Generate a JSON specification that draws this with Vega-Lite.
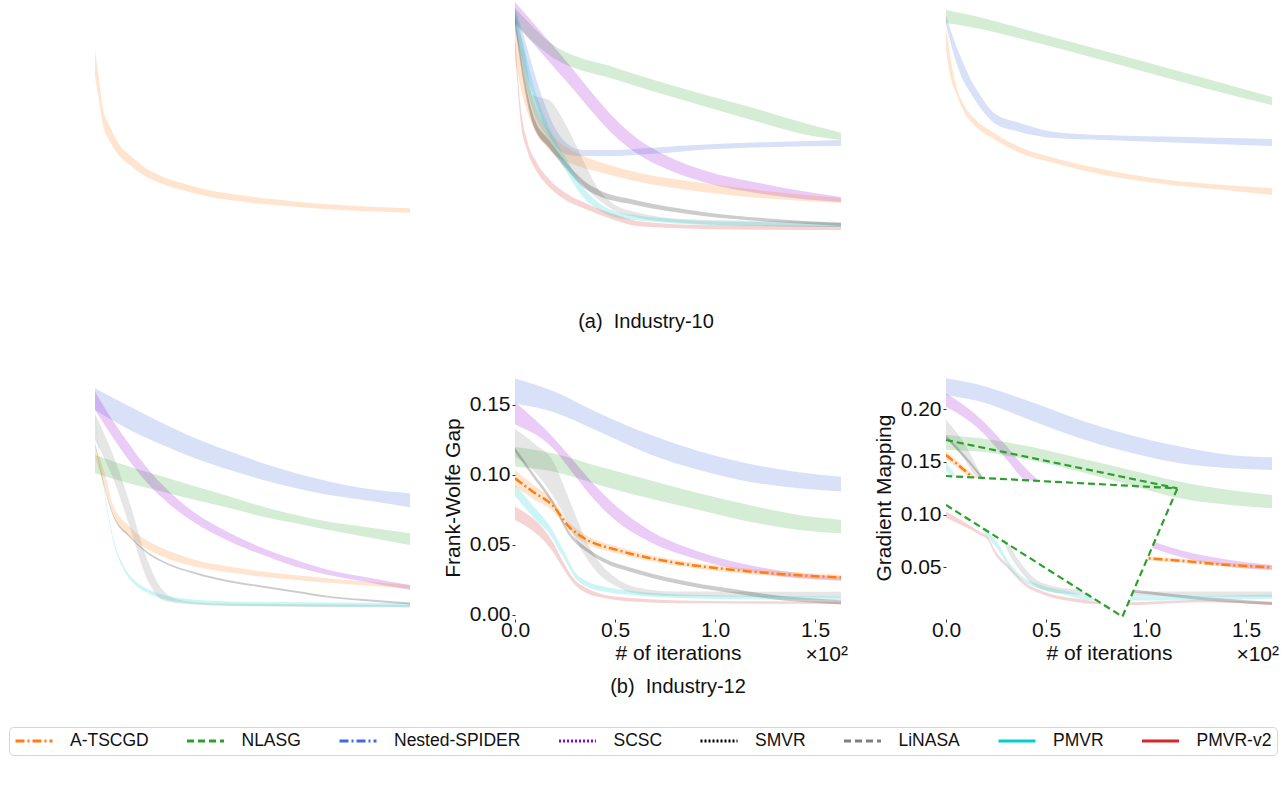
{
"$schema": "https://vega.github.io/schema/vega-lite/v6.json",
"padding": {"left": 8, "top": 0, "right": 6, "bottom": 6},
"config": {"font": "Liberation Sans", "view": {"stroke": null},
  "title": {"fontWeight": "normal", "fontSize": 20, "color": "#111", "font": "Liberation Sans"},
  "axis": {"labelFontSize": 21, "titleFontSize": 21, "titleFontWeight": "normal", "labelColor": "#111", "titleColor": "#111", "domain": false, "grid": false, "tickSize": 3, "tickColor": "#333", "labelPadding": 2}},
"datasets": {
"bands": [
{"p":"a1","m":"A-TSCGD","x":0,"v":0.683,"v2":0.794},{"p":"a1","m":"A-TSCGD","x":2,"v":0.59,"v2":0.68},{"p":"a1","m":"A-TSCGD","x":4,"v":0.49,"v2":0.56},{"p":"a1","m":"A-TSCGD","x":8,"v":0.415,"v2":0.475},{"p":"a1","m":"A-TSCGD","x":13,"v":0.355,"v2":0.40},{"p":"a1","m":"A-TSCGD","x":18,"v":0.321,"v2":0.362},{"p":"a1","m":"A-TSCGD","x":25,"v":0.28,"v2":0.315},{"p":"a1","m":"A-TSCGD","x":35,"v":0.243,"v2":0.273},{"p":"a1","m":"A-TSCGD","x":48,"v":0.212,"v2":0.240},{"p":"a1","m":"A-TSCGD","x":61,"v":0.187,"v2":0.214},{"p":"a1","m":"A-TSCGD","x":75,"v":0.172,"v2":0.197},{"p":"a1","m":"A-TSCGD","x":90,"v":0.158,"v2":0.182},{"p":"a1","m":"A-TSCGD","x":105,"v":0.148,"v2":0.170},{"p":"a1","m":"A-TSCGD","x":121,"v":0.139,"v2":0.159},{"p":"a1","m":"A-TSCGD","x":140,"v":0.131,"v2":0.150},{"p":"a1","m":"A-TSCGD","x":163,"v":0.125,"v2":0.143},

{"p":"a2","m":"NLASG","x":0,"v":0.897,"v2":0.967},{"p":"a2","m":"NLASG","x":9,"v":0.827,"v2":0.889},{"p":"a2","m":"NLASG","x":17,"v":0.774,"v2":0.828},{"p":"a2","m":"NLASG","x":51,"v":0.671,"v2":0.719},{"p":"a2","m":"NLASG","x":84,"v":0.588,"v2":0.636},{"p":"a2","m":"NLASG","x":117,"v":0.509,"v2":0.561},{"p":"a2","m":"NLASG","x":151,"v":0.437,"v2":0.479},{"p":"a2","m":"NLASG","x":163,"v":0.424,"v2":0.454},
{"p":"a2","m":"SCSC","x":0,"v":0.908,"v2":0.992},{"p":"a2","m":"SCSC","x":10,"v":0.813,"v2":0.897},{"p":"a2","m":"SCSC","x":20,"v":0.718,"v2":0.802},{"p":"a2","m":"SCSC","x":30,"v":0.625,"v2":0.705},{"p":"a2","m":"SCSC","x":40,"v":0.527,"v2":0.603},{"p":"a2","m":"SCSC","x":50,"v":0.439,"v2":0.511},{"p":"a2","m":"SCSC","x":60,"v":0.373,"v2":0.437},{"p":"a2","m":"SCSC","x":77,"v":0.300,"v2":0.354},{"p":"a2","m":"SCSC","x":94,"v":0.251,"v2":0.300},{"p":"a2","m":"SCSC","x":127,"v":0.198,"v2":0.239},{"p":"a2","m":"SCSC","x":163,"v":0.169,"v2":0.189},
{"p":"a2","m":"Nested-SPIDER","x":0,"v":0.877,"v2":0.967},{"p":"a2","m":"Nested-SPIDER","x":5,"v":0.712,"v2":0.835},{"p":"a2","m":"Nested-SPIDER","x":10,"v":0.588,"v2":0.691},{"p":"a2","m":"Nested-SPIDER","x":15,"v":0.477,"v2":0.568},{"p":"a2","m":"Nested-SPIDER","x":20,"v":0.403,"v2":0.473},{"p":"a2","m":"Nested-SPIDER","x":27,"v":0.362,"v2":0.403},{"p":"a2","m":"Nested-SPIDER","x":34,"v":0.358,"v2":0.383},{"p":"a2","m":"Nested-SPIDER","x":50,"v":0.358,"v2":0.383},{"p":"a2","m":"Nested-SPIDER","x":67,"v":0.366,"v2":0.391},{"p":"a2","m":"Nested-SPIDER","x":100,"v":0.387,"v2":0.407},{"p":"a2","m":"Nested-SPIDER","x":130,"v":0.395,"v2":0.416},{"p":"a2","m":"Nested-SPIDER","x":163,"v":0.399,"v2":0.424},
{"p":"a2","m":"A-TSCGD","x":0,"v":0.753,"v2":0.918},{"p":"a2","m":"A-TSCGD","x":5,"v":0.568,"v2":0.712},{"p":"a2","m":"A-TSCGD","x":10,"v":0.465,"v2":0.568},{"p":"a2","m":"A-TSCGD","x":15,"v":0.403,"v2":0.486},{"p":"a2","m":"A-TSCGD","x":20,"v":0.362,"v2":0.432},{"p":"a2","m":"A-TSCGD","x":30,"v":0.321,"v2":0.374},{"p":"a2","m":"A-TSCGD","x":44,"v":0.288,"v2":0.329},{"p":"a2","m":"A-TSCGD","x":60,"v":0.255,"v2":0.292},{"p":"a2","m":"A-TSCGD","x":94,"v":0.210,"v2":0.247},{"p":"a2","m":"A-TSCGD","x":130,"v":0.181,"v2":0.210},{"p":"a2","m":"A-TSCGD","x":163,"v":0.165,"v2":0.185},
{"p":"a2","m":"LiNASA","x":0,"v":0.909,"v2":0.959},{"p":"a2","m":"LiNASA","x":5,"v":0.650,"v2":0.774},{"p":"a2","m":"LiNASA","x":9,"v":0.494,"v2":0.609},{"p":"a2","m":"LiNASA","x":17,"v":0.395,"v2":0.588},{"p":"a2","m":"LiNASA","x":26,"v":0.309,"v2":0.477},{"p":"a2","m":"LiNASA","x":34,"v":0.239,"v2":0.342},{"p":"a2","m":"LiNASA","x":42,"v":0.177,"v2":0.218},{"p":"a2","m":"LiNASA","x":51,"v":0.128,"v2":0.152},{"p":"a2","m":"LiNASA","x":60,"v":0.107,"v2":0.128},{"p":"a2","m":"LiNASA","x":84,"v":0.082,"v2":0.099},{"p":"a2","m":"LiNASA","x":120,"v":0.070,"v2":0.091},{"p":"a2","m":"LiNASA","x":163,"v":0.066,"v2":0.086},
{"p":"a2","m":"SMVR","x":0,"v":0.897,"v2":0.938},{"p":"a2","m":"SMVR","x":4,"v":0.671,"v2":0.712},{"p":"a2","m":"SMVR","x":9,"v":0.486,"v2":0.527},{"p":"a2","m":"SMVR","x":17,"v":0.391,"v2":0.424},{"p":"a2","m":"SMVR","x":26,"v":0.300,"v2":0.329},{"p":"a2","m":"SMVR","x":34,"v":0.230,"v2":0.259},{"p":"a2","m":"SMVR","x":42,"v":0.193,"v2":0.218},{"p":"a2","m":"SMVR","x":60,"v":0.156,"v2":0.177},{"p":"a2","m":"SMVR","x":94,"v":0.111,"v2":0.128},{"p":"a2","m":"SMVR","x":130,"v":0.086,"v2":0.099},{"p":"a2","m":"SMVR","x":163,"v":0.070,"v2":0.082},
{"p":"a2","m":"PMVR","x":0,"v":0.909,"v2":0.959},{"p":"a2","m":"PMVR","x":5,"v":0.671,"v2":0.794},{"p":"a2","m":"PMVR","x":9,"v":0.547,"v2":0.658},{"p":"a2","m":"PMVR","x":17,"v":0.424,"v2":0.477},{"p":"a2","m":"PMVR","x":26,"v":0.288,"v2":0.342},{"p":"a2","m":"PMVR","x":34,"v":0.189,"v2":0.230},{"p":"a2","m":"PMVR","x":42,"v":0.136,"v2":0.165},{"p":"a2","m":"PMVR","x":51,"v":0.103,"v2":0.128},{"p":"a2","m":"PMVR","x":60,"v":0.095,"v2":0.115},{"p":"a2","m":"PMVR","x":84,"v":0.078,"v2":0.095},{"p":"a2","m":"PMVR","x":120,"v":0.070,"v2":0.086},{"p":"a2","m":"PMVR","x":163,"v":0.066,"v2":0.082},
{"p":"a2","m":"PMVR-v2","x":0,"v":0.794,"v2":0.844},{"p":"a2","m":"PMVR-v2","x":3,"v":0.486,"v2":0.547},{"p":"a2","m":"PMVR-v2","x":6,"v":0.383,"v2":0.424},{"p":"a2","m":"PMVR-v2","x":11,"v":0.292,"v2":0.329},{"p":"a2","m":"PMVR-v2","x":17,"v":0.230,"v2":0.263},{"p":"a2","m":"PMVR-v2","x":26,"v":0.173,"v2":0.202},{"p":"a2","m":"PMVR-v2","x":34,"v":0.144,"v2":0.169},{"p":"a2","m":"PMVR-v2","x":51,"v":0.091,"v2":0.115},{"p":"a2","m":"PMVR-v2","x":61,"v":0.070,"v2":0.091},{"p":"a2","m":"PMVR-v2","x":94,"v":0.058,"v2":0.074},{"p":"a2","m":"PMVR-v2","x":163,"v":0.053,"v2":0.070},

{"p":"a3","m":"NLASG","x":0,"v":0.905,"v2":0.959},{"p":"a3","m":"NLASG","x":12,"v":0.889,"v2":0.938},{"p":"a3","m":"NLASG","x":46,"v":0.823,"v2":0.864},{"p":"a3","m":"NLASG","x":96,"v":0.712,"v2":0.753},{"p":"a3","m":"NLASG","x":129,"v":0.638,"v2":0.679},{"p":"a3","m":"NLASG","x":163,"v":0.568,"v2":0.601},
{"p":"a3","m":"Nested-SPIDER","x":0,"v":0.897,"v2":0.938},{"p":"a3","m":"Nested-SPIDER","x":4,"v":0.774,"v2":0.835},{"p":"a3","m":"Nested-SPIDER","x":8,"v":0.679,"v2":0.753},{"p":"a3","m":"Nested-SPIDER","x":12,"v":0.621,"v2":0.679},{"p":"a3","m":"Nested-SPIDER","x":18,"v":0.547,"v2":0.597},{"p":"a3","m":"Nested-SPIDER","x":24,"v":0.494,"v2":0.535},{"p":"a3","m":"Nested-SPIDER","x":37,"v":0.457,"v2":0.494},{"p":"a3","m":"Nested-SPIDER","x":54,"v":0.432,"v2":0.457},{"p":"a3","m":"Nested-SPIDER","x":79,"v":0.424,"v2":0.444},{"p":"a3","m":"Nested-SPIDER","x":120,"v":0.412,"v2":0.436},{"p":"a3","m":"Nested-SPIDER","x":163,"v":0.399,"v2":0.428},
{"p":"a3","m":"A-TSCGD","x":0,"v":0.794,"v2":0.889},{"p":"a3","m":"A-TSCGD","x":2,"v":0.691,"v2":0.774},{"p":"a3","m":"A-TSCGD","x":5,"v":0.617,"v2":0.650},{"p":"a3","m":"A-TSCGD","x":9,"v":0.539,"v2":0.568},{"p":"a3","m":"A-TSCGD","x":15,"v":0.477,"v2":0.506},{"p":"a3","m":"A-TSCGD","x":24,"v":0.428,"v2":0.453},{"p":"a3","m":"A-TSCGD","x":37,"v":0.370,"v2":0.395},{"p":"a3","m":"A-TSCGD","x":54,"v":0.329,"v2":0.350},{"p":"a3","m":"A-TSCGD","x":79,"v":0.280,"v2":0.302},{"p":"a3","m":"A-TSCGD","x":112,"v":0.240,"v2":0.258},{"p":"a3","m":"A-TSCGD","x":140,"v":0.218,"v2":0.238},{"p":"a3","m":"A-TSCGD","x":163,"v":0.198,"v2":0.226},

{"p":"b1","m":"Nested-SPIDER","x":0,"v":0.860,"v2":0.950},{"p":"b1","m":"Nested-SPIDER","x":18,"v":0.778,"v2":0.874},{"p":"b1","m":"Nested-SPIDER","x":35,"v":0.716,"v2":0.806},{"p":"b1","m":"Nested-SPIDER","x":52,"v":0.661,"v2":0.744},{"p":"b1","m":"Nested-SPIDER","x":70,"v":0.613,"v2":0.689},{"p":"b1","m":"Nested-SPIDER","x":87,"v":0.572,"v2":0.641},{"p":"b1","m":"Nested-SPIDER","x":104,"v":0.538,"v2":0.600},{"p":"b1","m":"Nested-SPIDER","x":121,"v":0.510,"v2":0.566},{"p":"b1","m":"Nested-SPIDER","x":139,"v":0.490,"v2":0.538},{"p":"b1","m":"Nested-SPIDER","x":163,"v":0.460,"v2":0.518},
{"p":"b1","m":"NLASG","x":0,"v":0.600,"v2":0.675},{"p":"b1","m":"NLASG","x":18,"v":0.558,"v2":0.627},{"p":"b1","m":"NLASG","x":35,"v":0.524,"v2":0.586},{"p":"b1","m":"NLASG","x":52,"v":0.490,"v2":0.545},{"p":"b1","m":"NLASG","x":70,"v":0.456,"v2":0.503},{"p":"b1","m":"NLASG","x":87,"v":0.421,"v2":0.462},{"p":"b1","m":"NLASG","x":104,"v":0.394,"v2":0.428},{"p":"b1","m":"NLASG","x":121,"v":0.366,"v2":0.400},{"p":"b1","m":"NLASG","x":139,"v":0.339,"v2":0.380},{"p":"b1","m":"NLASG","x":163,"v":0.305,"v2":0.353},
{"p":"b1","m":"SCSC","x":0,"v":0.860,"v2":0.935},{"p":"b1","m":"SCSC","x":9,"v":0.750,"v2":0.819},{"p":"b1","m":"SCSC","x":18,"v":0.648,"v2":0.716},{"p":"b1","m":"SCSC","x":26.5,"v":0.565,"v2":0.627},{"p":"b1","m":"SCSC","x":35,"v":0.497,"v2":0.551},{"p":"b1","m":"SCSC","x":52,"v":0.394,"v2":0.435},{"p":"b1","m":"SCSC","x":70,"v":0.318,"v2":0.353},{"p":"b1","m":"SCSC","x":87,"v":0.263,"v2":0.291},{"p":"b1","m":"SCSC","x":104,"v":0.215,"v2":0.243},{"p":"b1","m":"SCSC","x":121,"v":0.181,"v2":0.202},{"p":"b1","m":"SCSC","x":139,"v":0.154,"v2":0.174},{"p":"b1","m":"SCSC","x":163,"v":0.119,"v2":0.140},
{"p":"b1","m":"A-TSCGD","x":0,"v":0.668,"v2":0.716},{"p":"b1","m":"A-TSCGD","x":6,"v":0.517,"v2":0.572},{"p":"b1","m":"A-TSCGD","x":9,"v":0.435,"v2":0.476},{"p":"b1","m":"A-TSCGD","x":18,"v":0.339,"v2":0.380},{"p":"b1","m":"A-TSCGD","x":26.5,"v":0.291,"v2":0.325},{"p":"b1","m":"A-TSCGD","x":35,"v":0.256,"v2":0.291},{"p":"b1","m":"A-TSCGD","x":52,"v":0.215,"v2":0.243},{"p":"b1","m":"A-TSCGD","x":70,"v":0.191,"v2":0.215},{"p":"b1","m":"A-TSCGD","x":87,"v":0.174,"v2":0.195},{"p":"b1","m":"A-TSCGD","x":121,"v":0.149,"v2":0.167},{"p":"b1","m":"A-TSCGD","x":163,"v":0.126,"v2":0.140},
{"p":"b1","m":"LiNASA","x":0,"v":0.737,"v2":0.846},{"p":"b1","m":"LiNASA","x":9,"v":0.586,"v2":0.682},{"p":"b1","m":"LiNASA","x":18,"v":0.379,"v2":0.476},{"p":"b1","m":"LiNASA","x":26.5,"v":0.173,"v2":0.256},{"p":"b1","m":"LiNASA","x":35,"v":0.078,"v2":0.119},{"p":"b1","m":"LiNASA","x":44,"v":0.064,"v2":0.078},{"p":"b1","m":"LiNASA","x":61,"v":0.056,"v2":0.064},{"p":"b1","m":"LiNASA","x":163,"v":0.047,"v2":0.058},
{"p":"b1","m":"PMVR","x":0,"v":0.825,"v2":0.841},{"p":"b1","m":"PMVR","x":4,"v":0.564,"v2":0.580},{"p":"b1","m":"PMVR","x":9,"v":0.331,"v2":0.347},{"p":"b1","m":"PMVR","x":14.5,"v":0.207,"v2":0.223},{"p":"b1","m":"PMVR","x":21,"v":0.139,"v2":0.155},{"p":"b1","m":"PMVR","x":28,"v":0.104,"v2":0.120},{"p":"b1","m":"PMVR","x":44,"v":0.070,"v2":0.086},{"p":"b1","m":"PMVR","x":70,"v":0.056,"v2":0.072},{"p":"b1","m":"PMVR","x":163,"v":0.050,"v2":0.066},
{"p":"b1","m":"SMVR","x":0,"v":0.719,"v2":0.727},{"p":"b1","m":"SMVR","x":4,"v":0.568,"v2":0.576},{"p":"b1","m":"SMVR","x":9,"v":0.431,"v2":0.439},{"p":"b1","m":"SMVR","x":18,"v":0.335,"v2":0.343},{"p":"b1","m":"SMVR","x":26.5,"v":0.273,"v2":0.281},{"p":"b1","m":"SMVR","x":35,"v":0.232,"v2":0.240},{"p":"b1","m":"SMVR","x":52,"v":0.184,"v2":0.192},{"p":"b1","m":"SMVR","x":70,"v":0.150,"v2":0.158},{"p":"b1","m":"SMVR","x":87,"v":0.129,"v2":0.137},{"p":"b1","m":"SMVR","x":104,"v":0.108,"v2":0.116},{"p":"b1","m":"SMVR","x":121,"v":0.087,"v2":0.095},{"p":"b1","m":"SMVR","x":139,"v":0.074,"v2":0.082},{"p":"b1","m":"SMVR","x":163,"v":0.060,"v2":0.068},

{"p":"b2","m":"Nested-SPIDER","x":0,"v":0.151,"v2":0.169},{"p":"b2","m":"Nested-SPIDER","x":19,"v":0.145,"v2":0.160},{"p":"b2","m":"Nested-SPIDER","x":42,"v":0.131,"v2":0.144},{"p":"b2","m":"Nested-SPIDER","x":67,"v":0.115,"v2":0.129},{"p":"b2","m":"Nested-SPIDER","x":92,"v":0.1036,"v2":0.117},{"p":"b2","m":"Nested-SPIDER","x":117,"v":0.0952,"v2":0.108},{"p":"b2","m":"Nested-SPIDER","x":142,"v":0.0905,"v2":0.102},{"p":"b2","m":"Nested-SPIDER","x":163,"v":0.0881,"v2":0.0988},
{"p":"b2","m":"NLASG","x":0,"v":0.106,"v2":0.120},{"p":"b2","m":"NLASG","x":19,"v":0.1024,"v2":0.1155},{"p":"b2","m":"NLASG","x":42,"v":0.0929,"v2":0.106},{"p":"b2","m":"NLASG","x":67,"v":0.0833,"v2":0.0964},{"p":"b2","m":"NLASG","x":92,"v":0.075,"v2":0.0869},{"p":"b2","m":"NLASG","x":117,"v":0.0667,"v2":0.0786},{"p":"b2","m":"NLASG","x":142,"v":0.0607,"v2":0.0714},{"p":"b2","m":"NLASG","x":163,"v":0.0583,"v2":0.0679},
{"p":"b2","m":"SCSC","x":0,"v":0.136,"v2":0.152},{"p":"b2","m":"SCSC","x":19,"v":0.119,"v2":0.127},{"p":"b2","m":"SCSC","x":29,"v":0.1012,"v2":0.1107},{"p":"b2","m":"SCSC","x":39,"v":0.0833,"v2":0.094},{"p":"b2","m":"SCSC","x":49,"v":0.069,"v2":0.0798},{"p":"b2","m":"SCSC","x":67,"v":0.0524,"v2":0.0607},{"p":"b2","m":"SCSC","x":92,"v":0.0393,"v2":0.0452},{"p":"b2","m":"SCSC","x":117,"v":0.031,"v2":0.0357},{"p":"b2","m":"SCSC","x":142,"v":0.0262,"v2":0.0298},{"p":"b2","m":"SCSC","x":163,"v":0.0245,"v2":0.0274},
{"p":"b2","m":"A-TSCGD","x":0,"v":0.0916,"v2":0.1036},{"p":"b2","m":"A-TSCGD","x":9,"v":0.083,"v2":0.093},{"p":"b2","m":"A-TSCGD","x":19,"v":0.074,"v2":0.082},{"p":"b2","m":"A-TSCGD","x":27,"v":0.060,"v2":0.066},{"p":"b2","m":"A-TSCGD","x":35,"v":0.0515,"v2":0.0575},{"p":"b2","m":"A-TSCGD","x":52,"v":0.0435,"v2":0.0485},{"p":"b2","m":"A-TSCGD","x":77,"v":0.0361,"v2":0.0401},{"p":"b2","m":"A-TSCGD","x":110,"v":0.0301,"v2":0.0341},{"p":"b2","m":"A-TSCGD","x":140,"v":0.0265,"v2":0.0305},{"p":"b2","m":"A-TSCGD","x":163,"v":0.0248,"v2":0.0288},
{"p":"b2","m":"LiNASA","x":0,"v":0.113,"v2":0.133},{"p":"b2","m":"LiNASA","x":10,"v":0.102,"v2":0.122},{"p":"b2","m":"LiNASA","x":19,"v":0.085,"v2":0.110},{"p":"b2","m":"LiNASA","x":25,"v":0.070,"v2":0.090},{"p":"b2","m":"LiNASA","x":30,"v":0.055,"v2":0.072},{"p":"b2","m":"LiNASA","x":36,"v":0.040,"v2":0.052},{"p":"b2","m":"LiNASA","x":42,"v":0.029,"v2":0.038},{"p":"b2","m":"LiNASA","x":50,"v":0.021,"v2":0.027},{"p":"b2","m":"LiNASA","x":60,"v":0.0155,"v2":0.020},{"p":"b2","m":"LiNASA","x":80,"v":0.0135,"v2":0.0167},{"p":"b2","m":"LiNASA","x":163,"v":0.0125,"v2":0.0165},
{"p":"b2","m":"SMVR","x":0,"v":0.1165,"v2":0.1195},{"p":"b2","m":"SMVR","x":9,"v":0.0985,"v2":0.1015},{"p":"b2","m":"SMVR","x":19,"v":0.0785,"v2":0.0815},{"p":"b2","m":"SMVR","x":27,"v":0.0568,"v2":0.0598},{"p":"b2","m":"SMVR","x":36,"v":0.0449,"v2":0.0479},{"p":"b2","m":"SMVR","x":44,"v":0.0378,"v2":0.0408},{"p":"b2","m":"SMVR","x":61,"v":0.0295,"v2":0.0325},{"p":"b2","m":"SMVR","x":77,"v":0.0235,"v2":0.0265},{"p":"b2","m":"SMVR","x":94,"v":0.0187,"v2":0.0217},{"p":"b2","m":"SMVR","x":111,"v":0.0152,"v2":0.0182},{"p":"b2","m":"SMVR","x":127,"v":0.0116,"v2":0.0146},{"p":"b2","m":"SMVR","x":144,"v":0.0092,"v2":0.0122},{"p":"b2","m":"SMVR","x":163,"v":0.0075,"v2":0.0105},
{"p":"b2","m":"PMVR","x":0,"v":0.085,"v2":0.093},{"p":"b2","m":"PMVR","x":9,"v":0.070,"v2":0.078},{"p":"b2","m":"PMVR","x":19,"v":0.054,"v2":0.060},{"p":"b2","m":"PMVR","x":22,"v":0.046,"v2":0.052},{"p":"b2","m":"PMVR","x":25,"v":0.0392,"v2":0.0442},{"p":"b2","m":"PMVR","x":30,"v":0.0266,"v2":0.0306},{"p":"b2","m":"PMVR","x":36,"v":0.0201,"v2":0.0241},{"p":"b2","m":"PMVR","x":45,"v":0.0165,"v2":0.0201},{"p":"b2","m":"PMVR","x":60,"v":0.014,"v2":0.017},{"p":"b2","m":"PMVR","x":90,"v":0.0118,"v2":0.0144},{"p":"b2","m":"PMVR","x":163,"v":0.0106,"v2":0.0132},
{"p":"b2","m":"PMVR-v2","x":0,"v":0.0679,"v2":0.0774},{"p":"b2","m":"PMVR-v2","x":19,"v":0.045,"v2":0.052},{"p":"b2","m":"PMVR-v2","x":25,"v":0.031,"v2":0.0357},{"p":"b2","m":"PMVR-v2","x":30,"v":0.0214,"v2":0.025},{"p":"b2","m":"PMVR-v2","x":36,"v":0.0155,"v2":0.019},{"p":"b2","m":"PMVR-v2","x":45,"v":0.012,"v2":0.0143},{"p":"b2","m":"PMVR-v2","x":60,"v":0.0095,"v2":0.012},{"p":"b2","m":"PMVR-v2","x":90,"v":0.0083,"v2":0.0102},{"p":"b2","m":"PMVR-v2","x":163,"v":0.0079,"v2":0.0095},

{"p":"b3","m":"Nested-SPIDER","x":0,"v":0.2136,"v2":0.2294},{"p":"b3","m":"Nested-SPIDER","x":17,"v":0.2073,"v2":0.2231},{"p":"b3","m":"Nested-SPIDER","x":42,"v":0.1899,"v2":0.2073},{"p":"b3","m":"Nested-SPIDER","x":67,"v":0.1725,"v2":0.1899},{"p":"b3","m":"Nested-SPIDER","x":92,"v":0.1589,"v2":0.1756},{"p":"b3","m":"Nested-SPIDER","x":117,"v":0.1487,"v2":0.1646},{"p":"b3","m":"Nested-SPIDER","x":142,"v":0.144,"v2":0.1566},{"p":"b3","m":"Nested-SPIDER","x":163,"v":0.1424,"v2":0.1544},
{"p":"b3","m":"NLASG","x":0,"v":0.1614,"v2":0.1756},{"p":"b3","m":"NLASG","x":17,"v":0.1598,"v2":0.1725},{"p":"b3","m":"NLASG","x":42,"v":0.1519,"v2":0.1646},{"p":"b3","m":"NLASG","x":67,"v":0.1408,"v2":0.1535},{"p":"b3","m":"NLASG","x":92,"v":0.1282,"v2":0.1424},{"p":"b3","m":"NLASG","x":117,"v":0.1155,"v2":0.1313},{"p":"b3","m":"NLASG","x":142,"v":0.1092,"v2":0.1234},{"p":"b3","m":"NLASG","x":163,"v":0.106,"v2":0.1187},
{"p":"b3","m":"SCSC","x":0,"v":0.2025,"v2":0.2152},{"p":"b3","m":"SCSC","x":17,"v":0.1804,"v2":0.1915},{"p":"b3","m":"SCSC","x":29,"v":0.1551,"v2":0.1677},{"p":"b3","m":"SCSC","x":39,"v":0.1329,"v2":0.1456},{"p":"b3","m":"SCSC","x":49,"v":0.117,"v2":0.128},{"p":"b3","m":"SCSC","x":67,"v":0.097,"v2":0.105},{"p":"b3","m":"SCSC","x":87,"v":0.081,"v2":0.088},{"p":"b3","m":"SCSC","x":104,"v":0.068,"v2":0.0744},{"p":"b3","m":"SCSC","x":117,"v":0.0601,"v2":0.0665},{"p":"b3","m":"SCSC","x":142,"v":0.0506,"v2":0.057},{"p":"b3","m":"SCSC","x":163,"v":0.0475,"v2":0.0522},
{"p":"b3","m":"A-TSCGD","x":0,"v":0.1526,"v2":0.1606},{"p":"b3","m":"A-TSCGD","x":12,"v":0.1347,"v2":0.1407},{"p":"b3","m":"A-TSCGD","x":25,"v":0.112,"v2":0.118},{"p":"b3","m":"A-TSCGD","x":40,"v":0.0925,"v2":0.0975},{"p":"b3","m":"A-TSCGD","x":60,"v":0.073,"v2":0.077},{"p":"b3","m":"A-TSCGD","x":80,"v":0.063,"v2":0.067},{"p":"b3","m":"A-TSCGD","x":102,"v":0.0565,"v2":0.0605},{"p":"b3","m":"A-TSCGD","x":117,"v":0.0543,"v2":0.0583},{"p":"b3","m":"A-TSCGD","x":142,"v":0.0502,"v2":0.0542},{"p":"b3","m":"A-TSCGD","x":163,"v":0.048,"v2":0.052},
{"p":"b3","m":"LiNASA","x":0,"v":0.172,"v2":0.190},{"p":"b3","m":"LiNASA","x":10,"v":0.150,"v2":0.165},{"p":"b3","m":"LiNASA","x":17,"v":0.128,"v2":0.140},{"p":"b3","m":"LiNASA","x":25,"v":0.095,"v2":0.110},{"p":"b3","m":"LiNASA","x":31,"v":0.065,"v2":0.075},{"p":"b3","m":"LiNASA","x":37,"v":0.047,"v2":0.055},{"p":"b3","m":"LiNASA","x":44,"v":0.033,"v2":0.040},{"p":"b3","m":"LiNASA","x":52,"v":0.027,"v2":0.033},{"p":"b3","m":"LiNASA","x":60,"v":0.025,"v2":0.030},{"p":"b3","m":"LiNASA","x":92,"v":0.023,"v2":0.027},{"p":"b3","m":"LiNASA","x":163,"v":0.022,"v2":0.027},
{"p":"b3","m":"SMVR","x":0,"v":0.1725,"v2":0.1755},{"p":"b3","m":"SMVR","x":20,"v":0.1285,"v2":0.1315},{"p":"b3","m":"SMVR","x":40,"v":0.0685,"v2":0.0715},{"p":"b3","m":"SMVR","x":60,"v":0.0385,"v2":0.0415},{"p":"b3","m":"SMVR","x":80,"v":0.0295,"v2":0.0325},{"p":"b3","m":"SMVR","x":97,"v":0.0254,"v2":0.0284},{"p":"b3","m":"SMVR","x":127,"v":0.0191,"v2":0.0221},{"p":"b3","m":"SMVR","x":163,"v":0.0143,"v2":0.0173},
{"p":"b3","m":"PMVR","x":0,"v":0.142,"v2":0.150},{"p":"b3","m":"PMVR","x":10,"v":0.115,"v2":0.121},{"p":"b3","m":"PMVR","x":17,"v":0.089,"v2":0.095},{"p":"b3","m":"PMVR","x":22,"v":0.0761,"v2":0.0821},{"p":"b3","m":"PMVR","x":26,"v":0.0666,"v2":0.0726},{"p":"b3","m":"PMVR","x":31,"v":0.0513,"v2":0.0563},{"p":"b3","m":"PMVR","x":37,"v":0.0391,"v2":0.0431},{"p":"b3","m":"PMVR","x":47,"v":0.0296,"v2":0.0336},{"p":"b3","m":"PMVR","x":61,"v":0.0233,"v2":0.0273},{"p":"b3","m":"PMVR","x":72,"v":0.0186,"v2":0.0226},{"p":"b3","m":"PMVR","x":92,"v":0.0186,"v2":0.0226},{"p":"b3","m":"PMVR","x":111,"v":0.0186,"v2":0.0226},{"p":"b3","m":"PMVR","x":163,"v":0.0202,"v2":0.0242},
{"p":"b3","m":"PMVR-v2","x":0,"v":0.097,"v2":0.103},{"p":"b3","m":"PMVR-v2","x":17,"v":0.0807,"v2":0.0839},{"p":"b3","m":"PMVR-v2","x":21,"v":0.0759,"v2":0.0791},{"p":"b3","m":"PMVR-v2","x":24,"v":0.064,"v2":0.068},{"p":"b3","m":"PMVR-v2","x":31,"v":0.049,"v2":0.0522},{"p":"b3","m":"PMVR-v2","x":39,"v":0.0332,"v2":0.0364},{"p":"b3","m":"PMVR-v2","x":49,"v":0.0237,"v2":0.0269},{"p":"b3","m":"PMVR-v2","x":64,"v":0.0174,"v2":0.0206},{"p":"b3","m":"PMVR-v2","x":77,"v":0.0149,"v2":0.0174},{"p":"b3","m":"PMVR-v2","x":92,"v":0.0142,"v2":0.0168},{"p":"b3","m":"PMVR-v2","x":111,"v":0.0158,"v2":0.018},{"p":"b3","m":"PMVR-v2","x":127,"v":0.0168,"v2":0.019},{"p":"b3","m":"PMVR-v2","x":163,"v":0.0142,"v2":0.0168}
],
"lines": [
{"p":"b2","m":"A-TSCGD","s":"m","k":0,"x":0,"v":0.0976},{"p":"b2","m":"A-TSCGD","s":"m","k":1,"x":9,"v":0.088},{"p":"b2","m":"A-TSCGD","s":"m","k":2,"x":19,"v":0.078},{"p":"b2","m":"A-TSCGD","s":"m","k":3,"x":27,"v":0.063},{"p":"b2","m":"A-TSCGD","s":"m","k":4,"x":35,"v":0.0545},{"p":"b2","m":"A-TSCGD","s":"m","k":5,"x":52,"v":0.046},{"p":"b2","m":"A-TSCGD","s":"m","k":6,"x":77,"v":0.0381},{"p":"b2","m":"A-TSCGD","s":"m","k":7,"x":110,"v":0.0321},{"p":"b2","m":"A-TSCGD","s":"m","k":8,"x":140,"v":0.0285},{"p":"b2","m":"A-TSCGD","s":"m","k":9,"x":163,"v":0.0268},
{"p":"b3","m":"A-TSCGD","s":"m","k":0,"x":0,"v":0.1566},{"p":"b3","m":"A-TSCGD","s":"m","k":1,"x":12,"v":0.1377},{"p":"b3","m":"A-TSCGD","s":"m","k":2,"x":25,"v":0.115},{"p":"b3","m":"A-TSCGD","s":"m","k":3,"x":40,"v":0.095},{"p":"b3","m":"A-TSCGD","s":"m","k":4,"x":60,"v":0.075},{"p":"b3","m":"A-TSCGD","s":"m","k":5,"x":80,"v":0.065},{"p":"b3","m":"A-TSCGD","s":"m","k":6,"x":102,"v":0.0585},{"p":"b3","m":"A-TSCGD","s":"m","k":7,"x":117,"v":0.0563},{"p":"b3","m":"A-TSCGD","s":"m","k":8,"x":142,"v":0.0522},{"p":"b3","m":"A-TSCGD","s":"m","k":9,"x":163,"v":0.050},
{"p":"b3","m":"NLASG","s":"a","k":0,"x":0,"v":0.1709},{"p":"b3","m":"NLASG","s":"a","k":1,"x":115.7,"v":0.125},{"p":"b3","m":"NLASG","s":"a","k":2,"x":0,"v":0.1367},
{"p":"b3","m":"NLASG","s":"b","k":0,"x":0,"v":0.1092},{"p":"b3","m":"NLASG","s":"b","k":1,"x":88.2,"v":0.0032},{"p":"b3","m":"NLASG","s":"b","k":2,"x":115.7,"v":0.125}
],
"mask": [
{"x":0,"v":0.1092,"v2":0.1367},{"x":88.2,"v":0.0032,"v2":0.1278},{"x":115.7,"v":0.125,"v2":0.125}
]
},
"concat": [
  {"width": 315, "height": 243,
   "encoding": {"x": {"field": "x", "type": "quantitative", "scale": {"domain": [0, 163], "nice": false, "zero": false}, "axis": null},
                "y": {"field": "v", "type": "quantitative", "scale": {"domain": [0, 1], "nice": false, "zero": false}, "axis": null}},
   "layer": [
    {"data": {"name": "bands"}, "transform": [{"filter": "datum.p === 'a1'"}],
     "mark": {"type": "area", "fillOpacity": 0.2, "interpolate": "monotone", "clip": true},
     "encoding": {"y2": {"field": "v2"},
       "color": {"field": "m", "type": "nominal", "scale": {"domain": ["A-TSCGD","NLASG","Nested-SPIDER","SCSC","SMVR","LiNASA","PMVR","PMVR-v2"], "range": ["#ff7f0e","#2ca02c","#4169e1","#9400d3","#000000","#808080","#00ced1","#d62728"]},
         "legend": {"orient": "none", "legendX": -86, "legendY": 727, "title": null, "direction": "horizontal", "columns": 8, "symbolType": "stroke", "symbolSize": 1369, "symbolStrokeWidth": 3, "clipHeight": 18, "labelFont": "Liberation Sans", "labelFontSize": 17.5, "labelColor": "#111", "labelOffset": 16, "columnPadding": 36.5, "padding": 5, "strokeColor": "#d6d6d6", "fillColor": "#ffffff", "cornerRadius": 4, "labelLimit": 300,
           "encode": {"symbols": {"update": {"stroke": {"scale": "color", "field": "value"}, "fill": {"value": "transparent"}, "opacity": {"value": 1}, "strokeOpacity": {"value": 1}, "fillOpacity": {"value": 0}, "strokeDash": {"scale": "strokeDash", "field": "value"}}}}}}}}
   ]},
  {"width": 326, "height": 243,
   "title": {"text": "(a)\u00a0\u00a0Industry-10", "orient": "bottom", "offset": 69, "dx": -32},
   "encoding": {"x": {"field": "x", "type": "quantitative", "scale": {"domain": [0, 163], "nice": false, "zero": false}, "axis": null},
                "y": {"field": "v", "type": "quantitative", "scale": {"domain": [0, 1], "nice": false, "zero": false}, "axis": null}},
   "layer": [
    {"data": {"name": "bands"}, "transform": [{"filter": "datum.p === 'a2'"}],
     "mark": {"type": "area", "fillOpacity": 0.2, "interpolate": "monotone", "clip": true},
     "encoding": {"y2": {"field": "v2"},
       "color": {"field": "m", "type": "nominal", "scale": {"domain": ["A-TSCGD","NLASG","Nested-SPIDER","SCSC","SMVR","LiNASA","PMVR","PMVR-v2"], "range": ["#ff7f0e","#2ca02c","#4169e1","#9400d3","#000000","#808080","#00ced1","#d62728"]}}}}
   ]},
  {"width": 326, "height": 243,
   "encoding": {"x": {"field": "x", "type": "quantitative", "scale": {"domain": [0, 163], "nice": false, "zero": false}, "axis": null},
                "y": {"field": "v", "type": "quantitative", "scale": {"domain": [0, 1], "nice": false, "zero": false}, "axis": null}},
   "layer": [
    {"data": {"name": "bands"}, "transform": [{"filter": "datum.p === 'a3'"}],
     "mark": {"type": "area", "fillOpacity": 0.2, "interpolate": "monotone", "clip": true},
     "encoding": {"y2": {"field": "v2"},
       "color": {"field": "m", "type": "nominal", "scale": {"domain": ["A-TSCGD","NLASG","Nested-SPIDER","SCSC","SMVR","LiNASA","PMVR","PMVR-v2"], "range": ["#ff7f0e","#2ca02c","#4169e1","#9400d3","#000000","#808080","#00ced1","#d62728"]}}}}
   ]},
  {"width": 315, "height": 243,
   "encoding": {"x": {"field": "x", "type": "quantitative", "scale": {"domain": [0, 163], "nice": false, "zero": false}, "axis": null},
                "y": {"field": "v", "type": "quantitative", "scale": {"domain": [0, 1], "nice": false, "zero": false}, "axis": null}},
   "layer": [
    {"data": {"name": "bands"}, "transform": [{"filter": "datum.p === 'b1'"}],
     "mark": {"type": "area", "fillOpacity": 0.2, "interpolate": "monotone", "clip": true},
     "encoding": {"y2": {"field": "v2"},
       "color": {"field": "m", "type": "nominal", "scale": {"domain": ["A-TSCGD","NLASG","Nested-SPIDER","SCSC","SMVR","LiNASA","PMVR","PMVR-v2"], "range": ["#ff7f0e","#2ca02c","#4169e1","#9400d3","#000000","#808080","#00ced1","#d62728"]}}}}
   ]},
  {"width": 326, "height": 243,
   "title": {"text": "(b)\u00a0\u00a0Industry-12", "orient": "bottom", "offset": 12},
   "encoding": {"x": {"field": "x", "type": "quantitative", "scale": {"domain": [0, 163], "nice": false, "zero": false},
                  "axis": {"values": [0, 50, 100, 150], "labelExpr": "format(datum.value / 100, '.1f')", "title": "# of iterations", "labelPadding": -3, "titlePadding": 2, "labelFlush": false}},
                "y": {"field": "v", "type": "quantitative", "scale": {"domain": [-0.0029, 0.1707], "nice": false, "zero": false},
                  "axis": {"values": [0, 0.05, 0.1, 0.15], "format": ".2f", "title": "Frank-Wolfe Gap", "titlePadding": 6}}},
   "layer": [
    {"data": {"name": "bands"}, "transform": [{"filter": "datum.p === 'b2'"}],
     "mark": {"type": "area", "fillOpacity": 0.2, "interpolate": "monotone", "clip": true},
     "encoding": {"y2": {"field": "v2"},
       "color": {"field": "m", "type": "nominal", "scale": {"domain": ["A-TSCGD","NLASG","Nested-SPIDER","SCSC","SMVR","LiNASA","PMVR","PMVR-v2"], "range": ["#ff7f0e","#2ca02c","#4169e1","#9400d3","#000000","#808080","#00ced1","#d62728"]}}}},
    {"data": {"name": "lines"}, "transform": [{"filter": "datum.p === 'b2'"}],
     "mark": {"type": "line", "strokeWidth": 2.5, "interpolate": "monotone", "clip": true},
     "encoding": {
       "color": {"field": "m", "type": "nominal", "scale": {"domain": ["A-TSCGD","NLASG","Nested-SPIDER","SCSC","SMVR","LiNASA","PMVR","PMVR-v2"], "range": ["#ff7f0e","#2ca02c","#4169e1","#9400d3","#000000","#808080","#00ced1","#d62728"]}},
       "strokeDash": {"field": "m", "type": "nominal", "scale": {"domain": ["A-TSCGD","NLASG","Nested-SPIDER","SCSC","SMVR","LiNASA","PMVR","PMVR-v2"], "range": [[9,3,2,3],[7,4],[9,3,2,3],[2,2],[2,2],[7,4],[1,0],[1,0]]}},
       "detail": {"field": "s"}}},
    {"data": {"values": [{"x": 163, "v": -0.0029}]},
     "mark": {"type": "text", "text": "×10²", "fontSize": 21, "align": "right", "baseline": "middle", "dx": 7, "dy": 36, "color": "#111", "clip": false}}
   ]},
  {"width": 326, "height": 243,
   "encoding": {"x": {"field": "x", "type": "quantitative", "scale": {"domain": [0, 163], "nice": false, "zero": false},
                  "axis": {"values": [0, 50, 100, 150], "labelExpr": "format(datum.value / 100, '.1f')", "title": "# of iterations", "labelPadding": -3, "titlePadding": 2, "labelFlush": false}},
                "y": {"field": "v", "type": "quantitative", "scale": {"domain": [0.001, 0.2316], "nice": false, "zero": false},
                  "axis": {"values": [0.05, 0.1, 0.15, 0.2], "format": ".2f", "title": "Gradient Mapping", "titlePadding": 6}}},
   "layer": [
    {"data": {"name": "bands"}, "transform": [{"filter": "datum.p === 'b3' && datum.m !== 'NLASG'"}],
     "mark": {"type": "area", "fillOpacity": 0.2, "interpolate": "monotone", "clip": true},
     "encoding": {"y2": {"field": "v2"},
       "color": {"field": "m", "type": "nominal", "scale": {"domain": ["A-TSCGD","NLASG","Nested-SPIDER","SCSC","SMVR","LiNASA","PMVR","PMVR-v2"], "range": ["#ff7f0e","#2ca02c","#4169e1","#9400d3","#000000","#808080","#00ced1","#d62728"]}}}},
    {"data": {"name": "lines"}, "transform": [{"filter": "datum.p === 'b3' && datum.m === 'A-TSCGD'"}],
     "mark": {"type": "line", "strokeWidth": 2.5, "interpolate": "monotone", "clip": true},
     "encoding": {
       "color": {"field": "m", "type": "nominal", "scale": {"domain": ["A-TSCGD","NLASG","Nested-SPIDER","SCSC","SMVR","LiNASA","PMVR","PMVR-v2"], "range": ["#ff7f0e","#2ca02c","#4169e1","#9400d3","#000000","#808080","#00ced1","#d62728"]}},
       "strokeDash": {"field": "m", "type": "nominal", "scale": {"domain": ["A-TSCGD","NLASG","Nested-SPIDER","SCSC","SMVR","LiNASA","PMVR","PMVR-v2"], "range": [[9,3,2,3],[7,4],[9,3,2,3],[2,2],[2,2],[7,4],[1,0],[1,0]]}},
       "detail": {"field": "s"}}},
    {"data": {"name": "mask"},
     "mark": {"type": "area", "color": "#ffffff", "fillOpacity": 1, "clip": true},
     "encoding": {"y2": {"field": "v2"}}},
    {"data": {"name": "bands"}, "transform": [{"filter": "datum.p === 'b3' && datum.m === 'NLASG'"}],
     "mark": {"type": "area", "fillOpacity": 0.2, "interpolate": "monotone", "clip": true},
     "encoding": {"y2": {"field": "v2"},
       "color": {"field": "m", "type": "nominal", "scale": {"domain": ["A-TSCGD","NLASG","Nested-SPIDER","SCSC","SMVR","LiNASA","PMVR","PMVR-v2"], "range": ["#ff7f0e","#2ca02c","#4169e1","#9400d3","#000000","#808080","#00ced1","#d62728"]}}}},
    {"data": {"name": "lines"}, "transform": [{"filter": "datum.p === 'b3' && datum.m === 'NLASG'"}],
     "mark": {"type": "line", "strokeWidth": 2.2, "clip": true},
     "encoding": {
       "color": {"field": "m", "type": "nominal", "scale": {"domain": ["A-TSCGD","NLASG","Nested-SPIDER","SCSC","SMVR","LiNASA","PMVR","PMVR-v2"], "range": ["#ff7f0e","#2ca02c","#4169e1","#9400d3","#000000","#808080","#00ced1","#d62728"]}},
       "strokeDash": {"field": "m", "type": "nominal", "scale": {"domain": ["A-TSCGD","NLASG","Nested-SPIDER","SCSC","SMVR","LiNASA","PMVR","PMVR-v2"], "range": [[9,3,2,3],[7,4],[9,3,2,3],[2,2],[2,2],[7,4],[1,0],[1,0]]}},
       "detail": {"field": "s"}, "order": {"field": "k"}}},
    {"data": {"values": [{"x": 163, "v": 0.001}]},
     "mark": {"type": "text", "text": "×10²", "fontSize": 21, "align": "right", "baseline": "middle", "dx": 7, "dy": 36, "color": "#111", "clip": false}}
   ]}
],
"columns": 3,
"spacing": {"row": 133, "column": 105},
"bounds": "flush"
}
